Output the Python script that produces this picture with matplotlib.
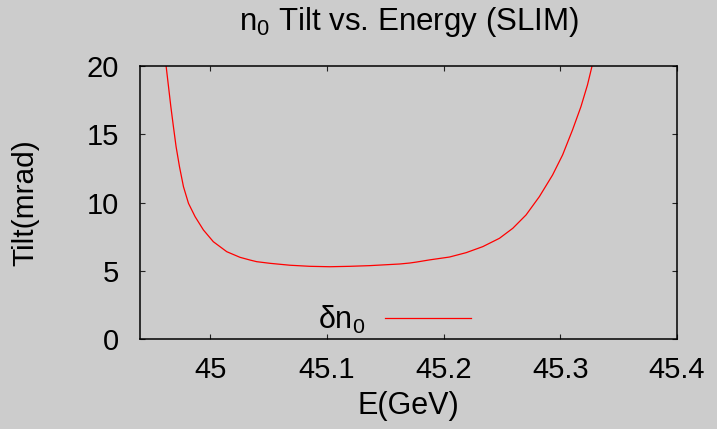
import numpy as np
import matplotlib
matplotlib.use('Agg')
import matplotlib.pyplot as plt

plt.rcParams['font.family'] = ['Liberation Sans', 'DejaVu Sans']
plt.rcParams['mathtext.fontset'] = 'custom'
plt.rcParams['mathtext.rm'] = 'Liberation Sans'
plt.rcParams['mathtext.it'] = 'Liberation Sans'
plt.rcParams['mathtext.sf'] = 'Liberation Sans'

# energy (GeV) and n0 tilt (mrad)
energy = [44.9624, 44.9644, 44.9664, 44.9686, 44.9709, 44.9738, 44.9772,
          44.9815, 44.9872, 44.9943, 45.0028, 45.0143, 45.0256, 45.0342,
          45.0399, 45.0513, 45.0598, 45.0684, 45.0855, 45.1026, 45.1197,
          45.1368, 45.1538, 45.1624, 45.1709, 45.1767, 45.1880, 45.2051,
          45.2194, 45.2336, 45.2479, 45.2593, 45.2707, 45.2821, 45.2934,
          45.3020, 45.3105, 45.3177, 45.3233, 45.3271]
tilt = [19.95, 18.49, 17.02, 15.56, 14.09, 12.63, 11.17,
        9.95, 8.97, 8.00, 7.14, 6.41, 6.00, 5.80,
        5.68, 5.56, 5.49, 5.42, 5.34, 5.31, 5.34,
        5.39, 5.47, 5.51, 5.58, 5.65, 5.81, 6.02,
        6.34, 6.78, 7.39, 8.12, 9.10, 10.44, 12.02,
        13.49, 15.32, 17.02, 18.61, 19.95]

xticks = [45, 45.1, 45.2, 45.3, 45.4]
xticklabels = ['45', '45.1', '45.2', '45.3', '45.4']
yticks = [0, 5, 10, 15, 20]

bg = '#cccccc'
fig = plt.figure(figsize=(7.17, 4.29), dpi=100, facecolor=bg)
ax = fig.add_axes([0.1953, 0.2091, 0.7489, 0.6371], facecolor=bg)

ax.plot(energy, tilt, color='red', lw=0.9, label=r'$\delta$n$_0$')

ax.set_xlim(44.94, 45.4)
ax.set_ylim(0, 20)
ax.set_xticks(xticks)
ax.set_xticklabels(xticklabels)
ax.set_yticks(yticks)
ax.tick_params(direction='in', length=3.6, width=0.8, top=True, right=True,
               labelsize=21, color='#222222')
ax.tick_params(axis='x', pad=12)
ax.tick_params(axis='y', pad=15)
for s in ax.spines.values():
    s.set_linewidth(1.1)

ax.set_title(r'n$_0$ Tilt vs. Energy (SLIM)', fontsize=22.5, pad=26)
ax.set_xlabel('E(GeV)', fontsize=22, labelpad=5)
ax.set_ylabel('Tilt(mrad)', fontsize=21.5, labelpad=34)

ax.legend(loc='center right', bbox_to_anchor=(0.6164, 0.0706),
          frameon=False, markerfirst=False, fontsize=22,
          handlelength=2.8, handletextpad=0.65, borderpad=0, borderaxespad=0)

fig.savefig('out.png', dpi=100, facecolor=bg)
